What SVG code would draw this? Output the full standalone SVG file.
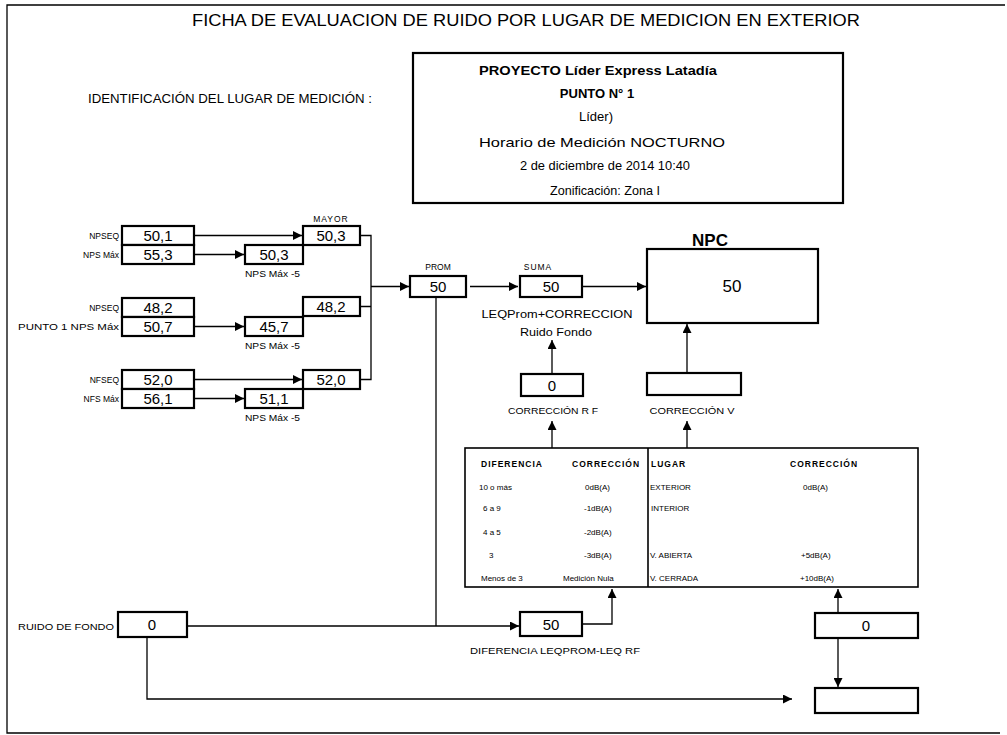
<svg xmlns="http://www.w3.org/2000/svg" width="1007" height="735" viewBox="0 0 1007 735">
<defs>
<style>
.bx{fill:#fff;stroke:#000;stroke-width:2.2}
.ln{fill:none;stroke:#000;stroke-width:1.3}
.v{font-family:"Liberation Sans",Arial,sans-serif;font-size:15px;fill:#000;text-anchor:middle}
.lb{font-family:"Liberation Sans",Arial,sans-serif;fill:#000}
.t{font-family:"Liberation Sans",Arial,sans-serif;font-size:8px;fill:#000}
.th{font-family:"Liberation Sans",Arial,sans-serif;font-size:8.5px;font-weight:bold;letter-spacing:1px;fill:#000}
.inf{font-family:"Liberation Sans",Arial,sans-serif;fill:#000}
</style>
<marker id="ar" viewBox="0 0 10 10" refX="10" refY="5" markerWidth="9" markerHeight="9" markerUnits="userSpaceOnUse" orient="auto">
<path d="M0,0 L10,5 L0,10 z" fill="#000"/>
</marker>
</defs>
<rect width="1007" height="735" fill="#fff"/>
<path d="M1005,5 L7,5 L7,733 L1000,733" class="ln" stroke-width="1.6"/>

<text x="526" y="26" font-family="Liberation Sans,Arial,sans-serif" font-size="16" text-anchor="middle" textLength="668" lengthAdjust="spacingAndGlyphs">FICHA DE EVALUACION DE RUIDO POR LUGAR DE MEDICION EN EXTERIOR</text>
<text x="88" y="103" font-family="Liberation Sans,Arial,sans-serif" font-size="12" textLength="284" lengthAdjust="spacingAndGlyphs">IDENTIFICACIÓN DEL LUGAR DE MEDICIÓN :</text>

<g id="info">
<rect x="413" y="53" width="430" height="150" class="bx" stroke-width="2"/>
<text x="598" y="75" class="inf" font-size="13" font-weight="bold" text-anchor="middle" textLength="238" lengthAdjust="spacingAndGlyphs">PROYECTO Líder Express Latadía</text>
<text x="597" y="98" class="inf" font-size="13" font-weight="bold" text-anchor="middle">PUNTO N° 1</text>
<text x="596" y="121" class="inf" font-size="13" text-anchor="middle">Líder)</text>
<text x="602" y="147" class="inf" font-size="13" text-anchor="middle" textLength="246" lengthAdjust="spacingAndGlyphs">Horario de Medición NOCTURNO</text>
<text x="520" y="170" class="inf" font-size="13" textLength="170" lengthAdjust="spacingAndGlyphs">2 de diciembre de 2014  10:40</text>
<text x="550" y="195" class="inf" font-size="13" textLength="110" lengthAdjust="spacingAndGlyphs">Zonificación: Zona I</text>
</g>

<g id="connectors">
<line x1="194" y1="235.5" x2="302" y2="235.5" class="ln" marker-end="url(#ar)"/>
<line x1="194" y1="254.5" x2="244" y2="254.5" class="ln" stroke-width="2" marker-end="url(#ar)"/>
<line x1="194" y1="326.5" x2="244" y2="326.5" class="ln" stroke-width="2" marker-end="url(#ar)"/>
<line x1="194" y1="379.5" x2="302" y2="379.5" class="ln" stroke-width="2" marker-end="url(#ar)"/>
<line x1="194" y1="398.5" x2="244" y2="398.5" class="ln" marker-end="url(#ar)"/>
<path d="M360,235.5 H371 V379.5 H360 M360,306.5 H371" class="ln"/>
<line x1="371" y1="286.5" x2="409" y2="286.5" class="ln" stroke-width="2" marker-end="url(#ar)"/>
<line x1="470" y1="286.5" x2="518" y2="286.5" class="ln" marker-end="url(#ar)"/>
<line x1="582" y1="286.5" x2="646" y2="286.5" class="ln" marker-end="url(#ar)"/>
<line x1="552" y1="374" x2="552" y2="340" class="ln" stroke-width="2" marker-end="url(#ar)"/>
<line x1="687" y1="373" x2="687" y2="324" class="ln" stroke-width="2" marker-end="url(#ar)"/>
<line x1="552" y1="448" x2="552" y2="421" class="ln" marker-end="url(#ar)"/>
<line x1="687" y1="448" x2="687" y2="421" class="ln" marker-end="url(#ar)"/>
<line x1="436" y1="297" x2="436" y2="626" class="ln"/>
<line x1="187" y1="626" x2="519" y2="626" class="ln" marker-end="url(#ar)"/>
<path d="M582,624 H612 V589" class="ln" stroke-width="2" marker-end="url(#ar)"/>
<path d="M147,637 V699 H792" class="ln" marker-end="url(#ar)"/>
<line x1="838" y1="613" x2="838" y2="589" class="ln" marker-end="url(#ar)"/>
<line x1="838" y1="638" x2="838" y2="687" class="ln" marker-end="url(#ar)"/>
</g>

<g id="g1">
<text x="119" y="239" class="lb" font-size="8.5" text-anchor="end">NPSEQ</text>
<text x="119" y="258" class="lb" font-size="8.5" text-anchor="end">NPS Máx</text>
<rect x="122" y="226" width="72" height="19" class="bx"/>
<text x="158" y="241" class="v">50,1</text>
<rect x="122" y="245" width="72" height="19" class="bx"/>
<text x="158" y="260" class="v">55,3</text>
</g>
<g id="mayor1">
<text x="331" y="222" class="lb" font-size="8.5" text-anchor="middle" letter-spacing="1">MAYOR</text>
<rect x="303" y="226" width="57" height="19" class="bx"/>
<text x="331" y="241" class="v">50,3</text>
</g>
<g id="max1">
<rect x="245" y="245" width="58" height="19" class="bx"/>
<text x="274" y="260" class="v">50,3</text>
<text x="245" y="277" class="lb" font-size="8.5" textLength="55" lengthAdjust="spacingAndGlyphs">NPS Máx -5</text>
</g>

<g id="g2">
<text x="119" y="311" class="lb" font-size="8.5" text-anchor="end">NPSEQ</text>
<text x="119" y="330" class="lb" font-size="8.5" text-anchor="end" textLength="101" lengthAdjust="spacingAndGlyphs">PUNTO 1  NPS Máx</text>
<rect x="122" y="298" width="72" height="19" class="bx"/>
<text x="158" y="313" class="v">48,2</text>
<rect x="122" y="317" width="72" height="19" class="bx"/>
<text x="158" y="332" class="v">50,7</text>
</g>
<g id="mayor2">
<rect x="303" y="297" width="57" height="19" class="bx"/>
<text x="331" y="312" class="v">48,2</text>
</g>
<g id="max2">
<rect x="245" y="317" width="58" height="19" class="bx"/>
<text x="274" y="332" class="v">45,7</text>
<text x="245" y="349" class="lb" font-size="8.5" textLength="55" lengthAdjust="spacingAndGlyphs">NPS Máx -5</text>
</g>

<g id="g3">
<text x="119" y="383" class="lb" font-size="8.5" text-anchor="end">NFSEQ</text>
<text x="119" y="402" class="lb" font-size="8.5" text-anchor="end">NFS Máx</text>
<rect x="122" y="370" width="72" height="19" class="bx"/>
<text x="158" y="385" class="v">52,0</text>
<rect x="122" y="389" width="72" height="19" class="bx"/>
<text x="158" y="404" class="v">56,1</text>
</g>
<g id="mayor3">
<rect x="303" y="370" width="57" height="19" class="bx"/>
<text x="331" y="385" class="v">52,0</text>
</g>
<g id="max3">
<rect x="245" y="389" width="58" height="19" class="bx"/>
<text x="274" y="404" class="v">51,1</text>
<text x="245" y="421" class="lb" font-size="8.5" textLength="55" lengthAdjust="spacingAndGlyphs">NPS Máx -5</text>
</g>

<g id="prom">
<text x="438" y="270" class="lb" font-size="8.5" text-anchor="middle">PROM</text>
<rect x="410" y="276" width="56" height="21" class="bx"/>
<text x="438" y="292" class="v">50</text>
</g>
<g id="suma">
<text x="538" y="270" class="lb" font-size="8.5" text-anchor="middle" letter-spacing="1">SUMA</text>
<rect x="520" y="276" width="62" height="21" class="bx"/>
<text x="551" y="292" class="v">50</text>
<text x="557" y="318" class="lb" font-size="10.5" text-anchor="middle" textLength="151" lengthAdjust="spacingAndGlyphs">LEQProm+CORRECCION</text>
<text x="556" y="336" class="lb" font-size="10.5" text-anchor="middle" textLength="72" lengthAdjust="spacingAndGlyphs">Ruido Fondo</text>
</g>
<g id="npc">
<text x="710" y="246" font-family="Liberation Sans,Arial,sans-serif" font-size="17" font-weight="bold" text-anchor="middle">NPC</text>
<rect x="647" y="249" width="171" height="74" class="bx"/>
<text x="732" y="292" class="v" style="font-size:17px">50</text>
</g>
<g id="corrRF">
<rect x="521" y="374" width="62" height="22" class="bx"/>
<text x="552" y="391" class="v">0</text>
<text x="553" y="414" class="lb" font-size="8.5" text-anchor="middle" textLength="90" lengthAdjust="spacingAndGlyphs">CORRECCIÓN R F</text>
</g>
<g id="corrV">
<rect x="647" y="373" width="94" height="22" class="bx"/>
<text x="692" y="414" class="lb" font-size="8.5" text-anchor="middle" textLength="85" lengthAdjust="spacingAndGlyphs">CORRECCIÓN V</text>
</g>

<g id="tabla">
<rect x="465" y="448" width="453" height="139" fill="#fff" stroke="#000" stroke-width="1.6"/>
<line x1="648" y1="448" x2="648" y2="587" stroke="#000" stroke-width="1.6"/>
<text x="481" y="467" class="th">DIFERENCIA</text>
<text x="572" y="467" class="th">CORRECCIÓN</text>
<text x="479" y="490" class="t">10 o más</text><text x="585" y="490" class="t">0dB(A)</text>
<text x="483" y="511" class="t">6 a 9</text><text x="584" y="511" class="t">-1dB(A)</text>
<text x="483" y="535" class="t">4 a 5</text><text x="584" y="535" class="t">-2dB(A)</text>
<text x="489" y="558" class="t">3</text><text x="584" y="558" class="t">-3dB(A)</text>
<text x="481" y="581" class="t">Menos de 3</text><text x="563" y="581" class="t">Medición Nula</text>
<text x="651" y="467" class="th">LUGAR</text>
<text x="790" y="467" class="th">CORRECCIÓN</text>
<text x="650" y="490" class="t">EXTERIOR</text><text x="803" y="490" class="t">0dB(A)</text>
<text x="651" y="511" class="t">INTERIOR</text>
<text x="650" y="558" class="t">V. ABIERTA</text><text x="801" y="558" class="t">+5dB(A)</text>
<text x="650" y="581" class="t">V. CERRADA</text><text x="800" y="581" class="t">+10dB(A)</text>
</g>

<g id="ruido">
<text x="114" y="630" class="lb" font-size="8.5" text-anchor="end" textLength="96" lengthAdjust="spacingAndGlyphs">RUIDO DE FONDO</text>
<rect x="118" y="612" width="69" height="25" class="bx"/>
<text x="152" y="630" class="v">0</text>
</g>
<g id="dif">
<rect x="520" y="612" width="62" height="24" class="bx"/>
<text x="551" y="630" class="v">50</text>
<text x="555" y="654" class="lb" font-size="8.5" text-anchor="middle" textLength="170" lengthAdjust="spacingAndGlyphs">DIFERENCIA LEQPROM-LEQ RF</text>
</g>
<g id="corrVal">
<rect x="815" y="613" width="103" height="25" class="bx"/>
<text x="866" y="631" class="v">0</text>
</g>
<g id="final">
<rect x="815" y="688" width="103" height="25" class="bx"/>
</g>
</svg>
